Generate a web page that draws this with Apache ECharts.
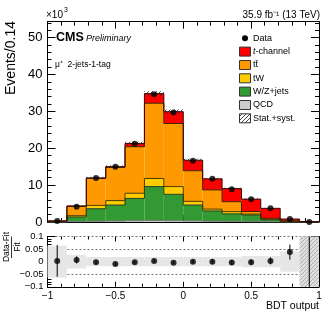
<!DOCTYPE html>
<html><head><meta charset="utf-8">
<script src="https://cdn.jsdelivr.net/npm/echarts@6/dist/echarts.min.js"></script>
<style>html,body{margin:0;padding:0;background:#fff}#c{width:332px;height:318px}</style>
</head><body><div id="c"></div>
<script>
// ---- data ----
const binEdges = [-1, -0.857, -0.714, -0.571, -0.429, -0.286, -0.143, 0, 0.143, 0.286, 0.429, 0.571, 0.714, 0.857, 1];
const qcd      = [0.02, 0.10, 0.20, 0.25, 0.35, 0.40, 0.35, 0.30, 0.20, 0.15, 0.10, 0.05, 0.02, 0.01];
const wzJets   = [0.08, 1.26, 3.40, 4.35, 6.05, 9.20, 7.15, 4.30, 2.80, 2.05, 1.80, 0.55, 0.13, 0.02];
const tW       = [0.05, 0.35, 0.90, 1.20, 1.40, 2.20, 2.10, 1.00, 0.50, 0.60, 0.25, 0.15, 0.05, 0.01];
const ttbar    = [0.10, 2.50, 7.30, 9.00, 12.6, 20.4, 17.1, 8.30, 5.20, 2.70, 0.70, 0.25, 0.10, 0.01];
const tChannel = [0.05, 0.15, 0.15, 0.20, 0.90, 2.60, 3.20, 2.85, 3.00, 3.55, 3.35, 2.70, 0.50, 0.05];
const dataObs  = [0.25, 4.15, 11.9, 15.0, 21.2, 34.6, 29.7, 16.6, 11.7, 8.90, 6.15, 3.70, 0.80, 0];
const statSyst = [0.02, 0.15, 0.30, 0.35, 0.45, 0.65, 0.60, 0.40, 0.30, 0.25, 0.20, 0.12, 0.05, 0.01];
const ratioVal  = [0.003, 0.007, -0.002, -0.009, -0.002, 0.003, -0.004, 0.000, 0.000, -0.003, -0.002, 0.003, 0.038, -1];
const ratioErr  = [0.063, 0.014, 0.007, 0.007, 0.006, 0.005, 0.005, 0.007, 0.008, 0.009, 0.011, 0.014, 0.030, 1.2];
const ratioBand = [0.063, 0.027, 0.018, 0.018, 0.018, 0.018, 0.018, 0.018, 0.018, 0.018, 0.022, 0.022, 0.040, 0.2];
const xTickLabels = ['−1', '−0.5', '0', '0.5', '1'];
const yTickLabels = ['0', '10', '20', '30', '40', '50'];
const ratioTickLabels = ['−0.1', '−0.05', '0', '0.05', '0.1'];
const legendNames = ['Data', '{i|t}-channel', 'tt\u0304', 'tW', 'W/Z+jets', 'QCD', 'Stat.+syst.'];

const FONT = "'Liberation Sans', Arial, Helvetica, sans-serif";
const nb = binEdges.length - 1;
const centers = [];
for (let i = 0; i < nb; i++) centers.push((binEdges[i] + binEdges[i + 1]) / 2);

function hatch(color, bg) {
  const c = document.createElement('canvas'); c.width = 4; c.height = 4;
  const g = c.getContext('2d');
  if (bg) { g.fillStyle = bg; g.fillRect(0, 0, 4, 4); }
  g.strokeStyle = color; g.lineWidth = 1;
  g.beginPath();
  g.moveTo(0, 4); g.lineTo(4, 0);
  g.moveTo(-1, 1); g.lineTo(1, -1);
  g.moveTo(3, 5); g.lineTo(5, 3);
  g.stroke();
  return c;
}
const hatchDark = { image: hatch('rgba(40,40,40,0.85)'), repeat: 'repeat' };
const hatchGrey = { image: hatch('#b0b0b0', '#dedede'), repeat: 'repeat' };

// stacking
const components = [
  { name: 'QCD', vals: qcd, fill: '#cccccc', line: '#777' },
  { name: 'W/Z+jets', vals: wzJets, fill: '#339933', line: '#1f3f1f' },
  { name: 'tW', vals: tW, fill: '#ffcc00', line: '#4a3a00' },
  { name: 'ttbar', vals: ttbar, fill: '#ff9900', line: '#402400' },
  { name: 't-channel', vals: tChannel, fill: '#ff0000', line: '#400000' }
];
let base = new Array(nb).fill(0);
const series = [];
components.forEach((c, ci) => {
  const rows = [];
  for (let i = 0; i < nb; i++) {
    const prevTop = i > 0 ? base[i - 1] + c.vals[i - 1] : 0;
    rows.push([binEdges[i], binEdges[i + 1], base[i], base[i] + c.vals[i], prevTop]);
  }
  base = base.map((b, i) => b + c.vals[i]);
  series.push({
    type: 'custom', name: c.name, xAxisIndex: 0, yAxisIndex: 0, z: 2, silent: true,
    data: rows, encode: { x: [0, 1], y: [2, 3] },
    renderItem(params, api) {
      const p0 = api.coord([api.value(0), api.value(2)]);
      const p1 = api.coord([api.value(1), api.value(3)]);
      return { type: 'rect', shape: { x: p0[0], y: p1[1], width: p1[0] - p0[0], height: p0[1] - p1[1] }, style: { fill: c.fill } };
    }
  });
  series.push({
    type: 'custom', name: c.name + '_line', xAxisIndex: 0, yAxisIndex: 0, z: 3, silent: true,
    data: rows, encode: { x: [0, 1], y: [2, 3] },
    renderItem(params, api) {
      const x0 = api.value(0), x1 = api.value(1), y1 = api.value(3), yp = api.value(4);
      const a = api.coord([x0, yp]), b = api.coord([x0, y1]), d = api.coord([x1, y1]);
      const pts = [[a[0], a[1]], [b[0], b[1]], [d[0], d[1]]];
      if (params.dataIndex === nb - 1) { const z = api.coord([x1, 0]); pts.push([z[0], z[1]]); }
      return { type: 'polyline', shape: { points: pts }, style: { stroke: c.line, lineWidth: 1, fill: null } };
    }
  });
});
const total = base;

// hatched uncertainty band
series.push({
  type: 'custom', name: 'Stat.+syst.', xAxisIndex: 0, yAxisIndex: 0, z: 4, silent: true,
  data: statSyst.map((e, i) => [binEdges[i], binEdges[i + 1], total[i] - e, total[i] + e]),
  encode: { x: [0, 1], y: [2, 3] },
  renderItem(params, api) {
    const p0 = api.coord([api.value(0), api.value(2)]);
    const p1 = api.coord([api.value(1), api.value(3)]);
    return { type: 'rect', shape: { x: p0[0], y: p1[1], width: p1[0] - p0[0], height: Math.max(1, p0[1] - p1[1]) }, style: { fill: hatchDark } };
  }
});
// data points
series.push({
  type: 'scatter', name: 'Data', xAxisIndex: 0, yAxisIndex: 0, z: 6, silent: true, clip: false,
  symbol: 'circle', symbolSize: 6, itemStyle: { color: '#000' },
  data: dataObs.map((v, i) => [centers[i], v])
});

// ratio band
series.push({
  type: 'custom', name: 'ratioBand', xAxisIndex: 2, yAxisIndex: 2, z: 2, silent: true, clip: true,
  data: ratioBand.map((b, i) => [binEdges[i], binEdges[i + 1], -b, b]),
  encode: { x: [0, 1], y: [2, 3] },
  renderItem(params, api) {
    const p0 = api.coord([api.value(0), api.value(2)]);
    const p1 = api.coord([api.value(1), api.value(3)]);
    const last = params.dataIndex === nb - 1;
    return { type: 'rect', shape: { x: p0[0], y: p1[1], width: p1[0] - p0[0], height: p0[1] - p1[1] }, style: { fill: last ? hatchGrey : '#e6e6e6' } };
  }
});
// ratio error bars
series.push({
  type: 'custom', name: 'ratioErr', xAxisIndex: 2, yAxisIndex: 2, z: 5, silent: true, clip: true,
  data: ratioVal.map((v, i) => [centers[i], v - ratioErr[i], v + ratioErr[i]]),
  encode: { x: 0, y: [1, 2] },
  renderItem(params, api) {
    const a = api.coord([api.value(0), api.value(1)]);
    const b = api.coord([api.value(0), api.value(2)]);
    return { type: 'line', shape: { x1: a[0], y1: a[1], x2: b[0], y2: b[1] }, style: { stroke: '#000', lineWidth: 1 } };
  }
});
series.push({
  type: 'scatter', name: 'ratio', xAxisIndex: 2, yAxisIndex: 2, z: 6, silent: true, clip: true,
  symbol: 'circle', symbolSize: 6, itemStyle: { color: '#000' },
  data: ratioVal.map((v, i) => [centers[i], v])
});

function axisX(grid, pos, showLabel, major, minor, lineShow) {
  return {
    type: 'value', gridIndex: grid, position: pos, min: -1, max: 1, interval: 0.5,
    axisLine: { show: lineShow !== false, onZero: false, lineStyle: { color: '#000', width: 1 } },
    axisTick: { show: true, inside: true, length: major, lineStyle: { color: '#000' } },
    minorTick: { show: true, splitNumber: 5, length: minor, lineStyle: { color: '#000' } },
    splitLine: { show: false },
    axisLabel: { show: showLabel, fontFamily: FONT, fontSize: 10, color: '#000', margin: 4,
      formatter: v => xTickLabels[Math.round((v + 1) / 0.5)] },
  };
}
const option = {
  animation: false,
  backgroundColor: '#fff',
  grid: [
    { left: 47.5, top: 21.7, width: 271.5, height: 200.3, outerBoundsMode: 'none', containLabel: false },
    { left: 47.5, top: 236.5, width: 271.5, height: 50.3, outerBoundsMode: 'none', containLabel: false }
  ],
  xAxis: [
    axisX(0, 'bottom', false, 7, 4),
    axisX(0, 'top', false, 7, 4),
    axisX(1, 'bottom', true, 5, 3),
    axisX(1, 'top', false, 5, 3, false)
  ],
  yAxis: [
    { type: 'value', gridIndex: 0, position: 'left', min: 0, max: 54.3, interval: 10,
      axisLine: { show: true, onZero: false, lineStyle: { color: '#000' } },
      axisTick: { inside: true, length: 8, lineStyle: { color: '#000' } },
      minorTick: { show: true, splitNumber: 5, length: 4, lineStyle: { color: '#000' } },
      splitLine: { show: false },
      axisLabel: { fontFamily: FONT, fontSize: 13, color: '#000', margin: 5, showMaxLabel: false,
        formatter: v => { const k = Math.round(v / 10); return Math.abs(v - k * 10) < 1e-6 ? yTickLabels[k] : ''; } } },
    { type: 'value', gridIndex: 0, position: 'right', min: 0, max: 54.3, interval: 10,
      axisLine: { show: true, onZero: false, lineStyle: { color: '#000' } },
      axisTick: { inside: true, length: 8, lineStyle: { color: '#000' } },
      minorTick: { show: true, splitNumber: 5, length: 4, lineStyle: { color: '#000' } },
      splitLine: { show: false }, axisLabel: { show: false } },
    { type: 'value', gridIndex: 1, position: 'left', min: -0.1, max: 0.1, interval: 0.05,
      axisLine: { show: true, onZero: false, lineStyle: { color: '#000' } },
      axisTick: { inside: true, length: 8, lineStyle: { color: '#000' } },
      minorTick: { show: true, splitNumber: 5, length: 4, lineStyle: { color: '#000' } },
      splitLine: { show: true, lineStyle: { color: '#555', type: [2, 2], width: 0.8 } },
      axisLabel: { fontFamily: FONT, fontSize: 9.5, color: '#000', margin: 4,
        formatter: v => ratioTickLabels[Math.round((v + 0.1) / 0.05)] } },
    { type: 'value', gridIndex: 1, position: 'right', min: -0.1, max: 0.1, interval: 0.05,
      axisLine: { show: true, onZero: false, lineStyle: { color: '#000' } },
      axisTick: { inside: true, length: 8, lineStyle: { color: '#000' } },
      minorTick: { show: true, splitNumber: 5, length: 4, lineStyle: { color: '#000' } },
      splitLine: { show: false }, axisLabel: { show: false } }
  ],
  series: series,
  graphic: []
};

const g = option.graphic;
function txt(x, y, text, font, align, extra) {
  const o = { type: 'text', x: x, y: y, z: 100, silent: true,
    style: Object.assign({ text: text, font: font, fill: '#000', textAlign: align || 'left', textVerticalAlign: 'middle' }, extra || {}) };
  g.push(o); return o;
}
txt(46, 15, '×10', `10px ${FONT}`);
txt(64, 10.5, '3', `7px ${FONT}`);
txt(320, 15, '35.9 fb⁻¹ (13 TeV)', `10px ${FONT}`, 'right');
const ev = txt(11, 58, 'Events/0.14', `14px ${FONT}`, 'center'); ev.rotation = Math.PI / 2;
txt(56, 38, 'CMS', `bold 12.5px ${FONT}`);
txt(86, 38.5, 'Preliminary', `italic 9px ${FONT}`);
txt(55, 65, 'μ⁺  2-jets-1-tag', `8.5px ${FONT}`);
const r1 = txt(7, 247, 'Data-Fit', `8.5px ${FONT}`, 'center'); r1.rotation = Math.PI / 2;
const r2 = txt(17.5, 247, 'Fit', `8.5px ${FONT}`, 'center'); r2.rotation = Math.PI / 2;
g.push({ type: 'line', silent: true, z: 100, shape: { x1: 11.5, y1: 236.5, x2: 11.5, y2: 258 }, style: { stroke: '#000', lineWidth: 0.8 } });
txt(319, 306, 'BDT output', `10.5px ${FONT}`, 'right');

// legend
const legY = [38.3, 51.6, 65, 78.3, 91.6, 105, 118.3];
const legFills = [null, '#ff0000', '#ff9900', '#ffcc00', '#339933', '#cccccc', 'hatch'];
legY.forEach((y, k) => {
  if (k === 0) {
    g.push({ type: 'circle', silent: true, z: 100, shape: { cx: 245, cy: y, r: 3 }, style: { fill: '#000' } });
  } else {
    g.push({ type: 'rect', silent: true, z: 100, shape: { x: 239.5, y: y - 4.5, width: 11, height: 9 },
      style: { fill: legFills[k] === 'hatch' ? hatchDark : legFills[k], stroke: '#333', lineWidth: 1 } });
  }
  txt(253, y, legendNames[k], `9px ${FONT}`, 'left', { rich: { i: { font: `italic 9px ${FONT}` } } });
});

const chart = echarts.init(document.getElementById('c'), null, { renderer: 'canvas' });
chart.setOption(option);
</script></body></html>
